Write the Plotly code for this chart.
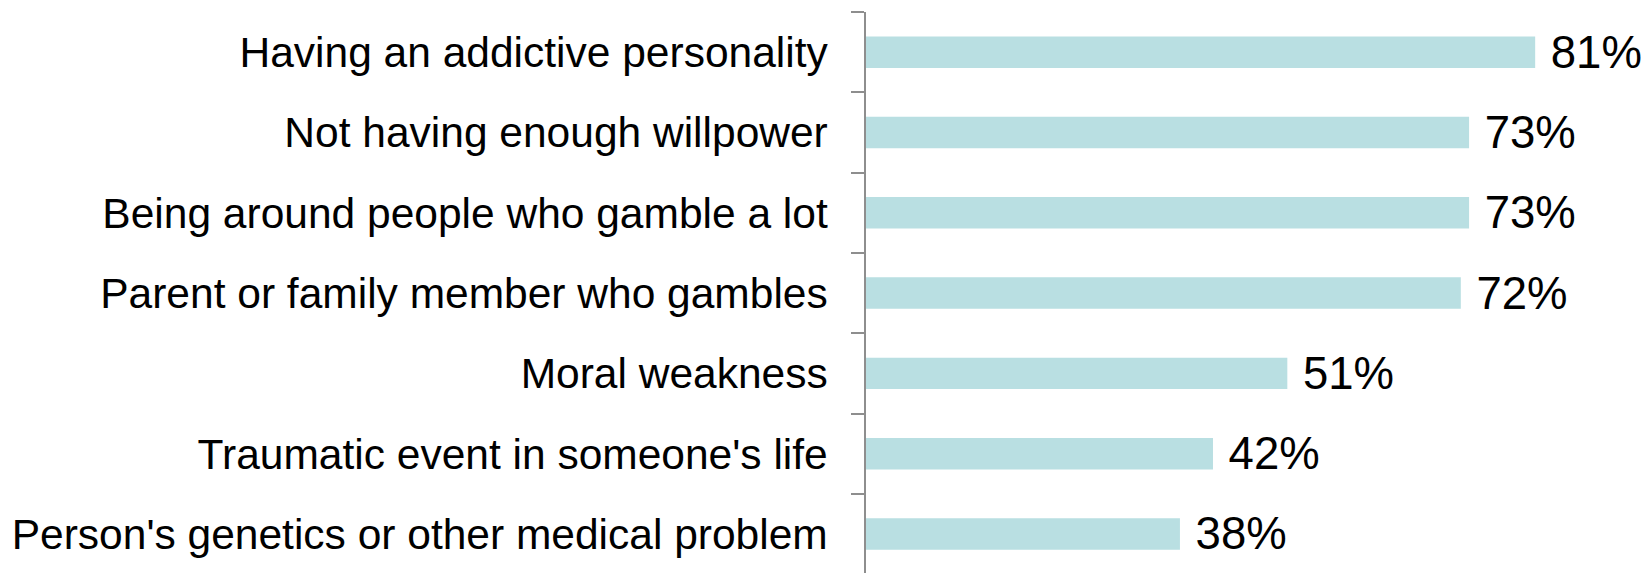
import plotly.graph_objects as go

categories = [
    "Having an addictive personality",
    "Not having enough willpower",
    "Being around people who gamble a lot",
    "Parent or family member who gambles",
    "Moral weakness",
    "Traumatic event in someone's life",
    "Person's genetics or other medical problem",
]
values = [81, 73, 73, 72, 51, 42, 38]
value_labels = [" %d%%" % v for v in values]

FONT = "Arial, Liberation Sans, sans-serif"

fig = go.Figure(
    go.Bar(
        x=values,
        y=categories,
        orientation="h",
        marker=dict(color="#B9DFE2", line=dict(width=0)),
        text=value_labels,
        textposition="outside",
        textfont=dict(family=FONT, size=45.5, color="#000000"),
        constraintext="none",
        cliponaxis=False,
        hoverinfo="skip",
    )
)

fig.update_layout(
    width=1650,
    height=573,
    margin=dict(l=866, r=0, t=12, b=0),
    paper_bgcolor="white",
    plot_bgcolor="white",
    bargap=0.608,
    showlegend=False,
    font=dict(family=FONT, color="#000000"),
)

fig.update_xaxes(
    range=[0, 94.9],
    visible=False,
    showgrid=False,
    zeroline=False,
)

fig.update_yaxes(
    categoryorder="array",
    categoryarray=categories,
    range=[6.486, -0.5],
    showline=True,
    linecolor="#8E8E8E",
    linewidth=1.5,
    ticks="outside",
    tickson="boundaries",
    ticklen=13,
    tickcolor="#8E8E8E",
    tickwidth=1.5,
    ticklabelstandoff=28,
    tickfont=dict(family=FONT, size=42.5, color="#000000"),
    showgrid=False,
    zeroline=False,
)

fig.write_html(
    "out.html",
    config={"displayModeBar": False},
    post_script="document.body.style.margin='0';document.body.style.overflow='hidden';",
)
